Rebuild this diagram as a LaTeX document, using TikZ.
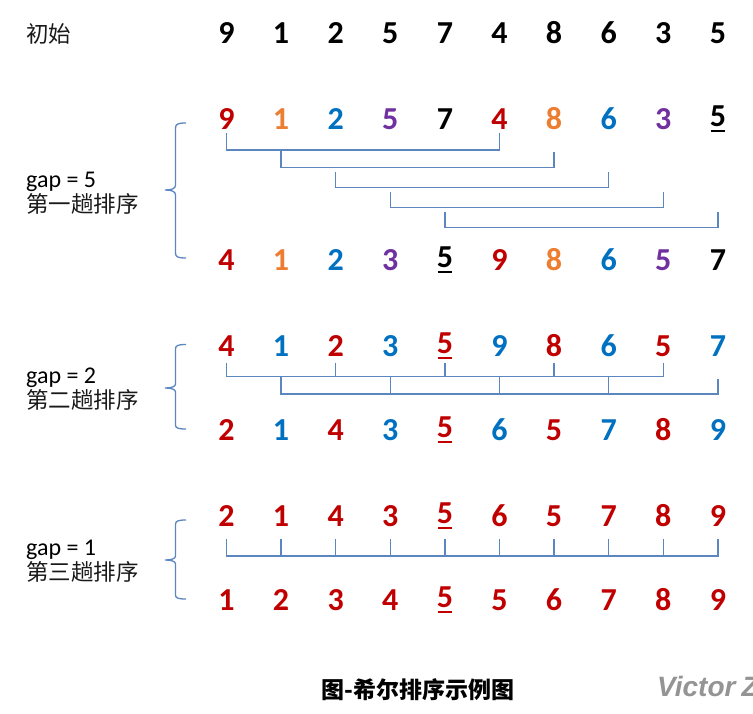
\documentclass[tikz,border=0pt]{standalone}
\usepackage{fontspec}
\setmainfont{Carlito}
\newfontfamily\cjk{Noto Sans CJK SC}
\newfontfamily\wmfont{Liberation Sans}
\definecolor{cR}{HTML}{C00000}
\definecolor{cO}{HTML}{ED7D31}
\definecolor{cB}{HTML}{0070C0}
\definecolor{cP}{HTML}{7030A0}
\definecolor{cK}{HTML}{000000}
\definecolor{brc}{HTML}{5B86C0}
\newcommand\myul[1]{\setbox0\hbox{#1}\rlap{\hspace{1pt}\raisebox{-5pt}{\rule{\dimexpr\wd0-2pt\relax}{2pt}}}\box0}
\tikzset{
  dg/.style={font=\fontsize{32}{36}\selectfont\bfseries, inner sep=0pt},
  br/.style={draw=brc, line width=1.3pt},
  lab/.style={font=\fontsize{24}{28}\selectfont, inner sep=0pt, anchor=base west},
  cjklab/.style={font=\cjk\fontsize{22.5}{26}\selectfont, inner sep=0pt, anchor=west, text=black!90},
}
\begin{document}
\begin{tikzpicture}[x=1pt,y=-1pt]
\useasboundingbox (0,0) rectangle (753,713);
\clip (0,0) rectangle (753,713);
% row: initial
\node[cjklab] (init) at (26,33.5) {初始};
\foreach \v [count=\i] in {9,1,2,5,7,4,8,6,3,5}
  \node[dg,text=cK] (t\i) at ({226.5+54.6*(\i-1)},33) {\v};
% gap = 5
\foreach \v/\c [count=\i] in {9/cR,1/cO,2/cB,5/cP,7/cK,4/cR,8/cO,6/cB,3/cP,\myul{5}/cK}
  \node[dg,text=\c] (a\i) at ({226.5+54.6*(\i-1)},119) {\v};
\foreach \v/\c [count=\i] in {4/cR,1/cO,2/cB,3/cP,\myul{5}/cK,9/cR,8/cO,6/cB,5/cP,7/cK}
  \node[dg,text=\c] (b\i) at ({226.5+54.6*(\i-1)},260) {\v};
% gap = 2
\foreach \v/\c [count=\i] in {4/cR,1/cB,2/cR,3/cB,\myul{5}/cR,9/cB,8/cR,6/cB,5/cR,7/cB}
  \node[dg,text=\c] (c\i) at ({226.5+54.6*(\i-1)},346) {\v};
\foreach \v/\c [count=\i] in {2/cR,1/cB,4/cR,3/cB,\myul{5}/cR,6/cB,5/cR,7/cB,8/cR,9/cB}
  \node[dg,text=\c] (d\i) at ({226.5+54.6*(\i-1)},430) {\v};
% gap = 1
\foreach \v [count=\i] in {2,1,4,3,\myul{5},6,5,7,8,9}
  \node[dg,text=cR] (e\i) at ({226.5+54.6*(\i-1)},516) {\v};
\foreach \v [count=\i] in {1,2,3,4,\myul{5},5,6,7,8,9}
  \node[dg,text=cR] (f\i) at ({226.5+54.6*(\i-1)},600) {\v};
% labels
\node[lab] (g5) at (26,187.5) {gap = 5};
\node[cjklab] (s5) at (26,203.5) {第一趟排序};
\node[lab] (g2) at (26,383) {gap = 2};
\node[cjklab] (s2) at (26,400) {第二趟排序};
\node[lab] (g1) at (26,555) {gap = 1};
\node[cjklab] (s1) at (26,572) {第三趟排序};
% braces
\draw[br] (186,123) .. controls (178,123) and (175.5,124) .. (175.5,128) -- (175.5,185)
  .. controls (175.5,188.5) and (172,190) .. (165,190) .. controls (172,190) and (175.5,191.5) .. (175.5,195)
  -- (175.5,253) .. controls (175.5,257) and (178,258) .. (186,258);
\draw[br] (186,344.5) .. controls (178,344.5) and (175.5,345.5) .. (175.5,349) -- (175.5,384)
  .. controls (175.5,386.5) and (172,388) .. (165,388) .. controls (172,388) and (175.5,389.5) .. (175.5,392)
  -- (175.5,425) .. controls (175.5,428) and (178,429) .. (186,429);
\draw[br] (186,520) .. controls (178,520) and (175.5,521) .. (175.5,524.5) -- (175.5,556)
  .. controls (175.5,558.5) and (172,560) .. (165,560) .. controls (172,560) and (175.5,561.5) .. (175.5,564)
  -- (175.5,595) .. controls (175.5,598) and (178,599) .. (186,599);
% gap 5 brackets
\coordinate (h0) at (0,133.3);
\coordinate (h1) at (0,150);
\coordinate (h2) at (0,167.7);
\coordinate (h3) at (0,187.7);
\coordinate (h4) at (0,207.3);
\coordinate (h5) at (0,227.3);
\coordinate (r1) at (0,133.3);
\coordinate (r2) at (0,151.7);
\coordinate (r3) at (0,171.7);
\coordinate (r4) at (0,191.7);
\coordinate (r5) at (0,211.7);
\draw[br] (a1 |- h0) -- (a1 |- h1) -- (a6 |- h1) -- (a6 |- r1);
\draw[br] (a2 |- h1) -- (a2 |- h2) -- (a7 |- h2) -- (a7 |- r2);
\draw[br] (a3 |- r3) -- (a3 |- h3) -- (a8 |- h3) -- (a8 |- r3);
\draw[br] (a4 |- r4) -- (a4 |- h4) -- (a9 |- h4) -- (a9 |- r4);
\draw[br] (a5 |- r5) -- (a5 |- h5) -- (a10 |- h5) -- (a10 |- r5);
% gap 2 brackets
\coordinate (u0) at (0,362.5);
\coordinate (u1) at (0,376.7);
\coordinate (u2) at (0,394);
\coordinate (u3) at (0,379);
\draw[br] (c1 |- u0) -- (c1 |- u1) -- (c9 |- u1) -- (c9 |- u0);
\foreach \k in {3,5,7} \draw[br] (c\k |- u0) -- (c\k |- u1);
\draw[br] (c2 |- u1) -- (c2 |- u2) -- (c10 |- u2) -- (c10 |- u3);
\foreach \k in {4,6,8} \draw[br] (c\k |- u1) -- (c\k |- u2);
% gap 1 bracket
\coordinate (v0) at (0,539);
\coordinate (v1) at (0,556);
\draw[br] (e1 |- v0) -- (e1 |- v1) -- (e10 |- v1) -- (e10 |- v0);
\foreach \k in {2,...,9} \draw[br] (e\k |- v0) -- (e\k |- v1);
% caption and watermark
\node[font=\cjk\bfseries\fontsize{23}{27}\selectfont, inner sep=0pt] (cap) at (418,690) {图-希尔排序示例图};
\node[anchor=west, inner sep=0pt, text=black!42, font=\wmfont\bfseries\itshape\fontsize{28}{32}\selectfont] (wm) at (657,686) {Victor\hspace{6pt}Z};
\end{tikzpicture}
\end{document}
